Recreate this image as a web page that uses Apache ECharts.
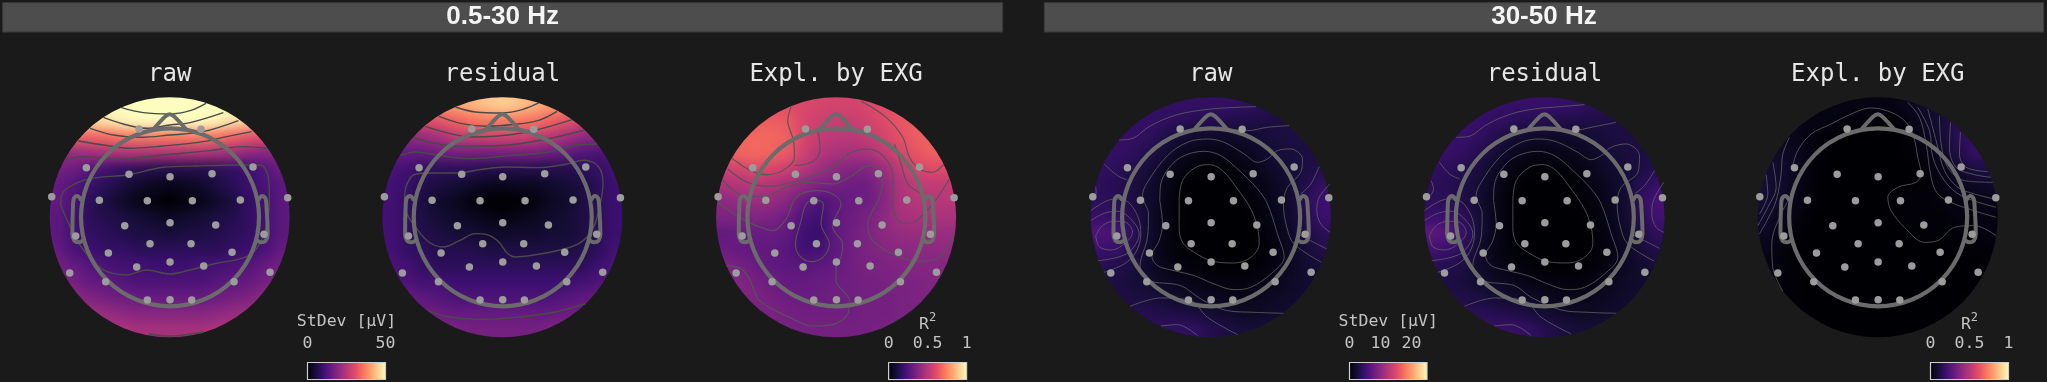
<!DOCTYPE html>
<html><head><meta charset="utf-8">
<style>html,body{margin:0;padding:0;background:#1a1a1a;overflow:hidden}#main{width:2047px;height:382px}</style>
<script src="https://cdn.jsdelivr.net/npm/echarts@6/dist/echarts.min.js"></script>
</head><body><div id="main"></div>
<script>
// ---------- labels and ticks ----------
const BANDS = ['0.5-30 Hz', '30-50 Hz'];
const PANEL_TITLES = ['raw', 'residual', 'Expl. by EXG', 'raw', 'residual', 'Expl. by EXG'];
const BAR_TICKS_LOW = [0, 50];
const BAR_TICKS_HIGH = [0, 10, 20];
const BAR_TICKS_R2 = [0, 0.5, 1];
const MAGMA = ['#000004','#140e36','#3b0f70','#641a80','#8c2981','#b73779','#de4968','#f7705c','#fe9f6d','#fecf92','#fcfdbf'];

// ---------- field values on a 15x15 sampling of each scalp map (top row first) ----------
const LOW_RAW = [
[50,50,50,50,50,50,50,50,50,50,50,50,50,50,50],
[46,46,46,47,49,50,50,50,50,50,49,47,45,44,44],
[33,33,33,34,35,36,36,36,36,36,35,33,31,30,30],
[21,21,22,23,24,24,24,24,24,24,23,22,20,19,19],
[17,16,13,11,9,8,7,7,7,7,8,9,10,13,16],
[15,13,10,8,6,4,3,2,3,4,6,8,10,12,14],
[15,12,8,6,4,2,1,0,1,2,4,6,9,11,14],
[14,11,8,7,6,5,4,3,4,5,6,7,9,11,14],
[14,11,9,8,7,6,6,5,6,6,7,8,9,11,14],
[15,12,10,9,9,8,8,8,8,8,8,9,10,12,15],
[17,15,13,12,11,11,10,10,10,11,11,12,13,15,17],
[18,17,15,14,13,12,12,12,12,12,13,14,15,17,18],
[21,20,18,17,16,15,15,15,15,15,16,17,18,20,21],
[24,23,22,21,20,19,19,19,19,19,20,21,22,23,24],
[26,26,25,24,24,23,23,23,23,23,24,24,25,26,26]];
const LOW_RES = [
[38,38,38,39,40,42,44,45,44,42,40,38,38,38,38],
[30,30,30,31,33,35,36,36,36,35,33,31,29,29,29],
[20,20,21,23,26,27,28,28,28,27,25,23,20,19,19],
[15,15,15,16,17,17,17,17,17,17,16,15,13,12,12],
[12,11,9,8,8,8,7,7,7,7,7,7,8,9,11],
[11,10,7,6,5,4,3,2,3,3,4,5,6,8,10],
[11,9,6,4,3,1,0,0,0,1,3,4,6,8,10],
[11,9,6,5,4,3,2,1,2,3,4,5,6,8,10],
[11,9,7,6,5,5,4,4,4,4,5,5,6,8,10],
[11,9,8,7,7,7,6,6,6,6,6,6,7,8,11],
[12,11,9,8,8,8,8,8,8,8,8,8,8,10,12],
[13,12,11,11,10,10,10,10,10,10,10,10,11,12,13],
[15,15,14,13,12,12,12,12,12,12,12,13,14,15,15],
[17,17,16,16,15,15,15,15,15,15,15,16,16,17,17],
[19,19,18,18,18,17,17,17,17,17,18,18,18,19,19]];
const LOW_R2 = [
[.62,.62,.62,.62,.61,.59,.58,.57,.57,.59,.61,.62,.63,.63,.63],
[.65,.65,.65,.65,.64,.58,.55,.54,.54,.56,.60,.63,.65,.66,.66],
[.66,.67,.68,.68,.66,.58,.53,.51,.51,.53,.57,.62,.65,.66,.66],
[.66,.67,.68,.67,.64,.56,.49,.47,.46,.47,.52,.58,.63,.66,.66],
[.55,.57,.60,.58,.55,.50,.44,.40,.37,.37,.43,.52,.58,.60,.60],
[.48,.49,.50,.48,.45,.40,.36,.34,.32,.32,.39,.48,.52,.52,.52],
[.40,.42,.43,.42,.38,.30,.24,.28,.31,.32,.38,.47,.50,.50,.50],
[.36,.36,.37,.36,.32,.24,.21,.29,.32,.35,.40,.46,.47,.47,.47],
[.30,.31,.31,.31,.29,.21,.19,.29,.33,.36,.40,.42,.43,.43,.43],
[.31,.30,.29,.29,.27,.21,.22,.29,.33,.36,.38,.39,.40,.40,.41],
[.36,.34,.31,.29,.28,.27,.28,.30,.33,.35,.36,.37,.38,.38,.38],
[.38,.37,.34,.31,.30,.30,.31,.32,.33,.34,.35,.36,.36,.37,.37],
[.38,.37,.36,.34,.32,.31,.32,.33,.33,.34,.34,.35,.36,.36,.36],
[.37,.37,.36,.35,.34,.33,.33,.33,.33,.34,.34,.35,.35,.36,.36],
[.37,.37,.36,.35,.35,.34,.34,.34,.34,.34,.35,.35,.35,.36,.36]];
const HIGH_RAW = [
[4,4,4,4.3,4.4,4.5,4.5,4.5,4.5,4.3,4,3.8,3.5,3.5,3.5],
[4.5,4.5,4.5,4.5,4.3,4,3.7,3.6,3.4,3.3,3.2,3,3,3,3],
[4.5,4.5,4.5,4.2,3.5,2.5,2,1.7,1.8,2,2.4,2.8,3,3,3],
[4.5,4.5,4.3,3.5,2.5,1.5,1,0.8,1,1.2,1.8,2.5,2.8,3,3.2],
[4.3,4,3.5,2.8,1.6,0.7,0.3,0.1,0.3,0.6,1.2,2,2.5,3,3.5],
[4,3.7,3.2,2.3,1.2,0.3,0,0,0,0.3,0.8,1.5,2.3,3.5,4.5],
[4,3.8,3.2,2.2,1,0.2,0,0,0,0.1,0.6,1.3,2.2,4,5],
[4.8,4.6,3.8,2.3,1,0.2,0,0,0,0,0.3,1,2.1,3.6,5],
[6.2,6,4.5,2.3,1,0.2,0,0,0,0,0.2,0.8,1.8,3,4],
[5,4.8,3.8,2,0.9,0.3,0,0,0,0,0.1,0.6,1.6,2.6,3.4],
[3.8,3.5,3,2,1.1,0.6,0.3,0.1,0,0,0.2,0.7,1.5,2.2,2.6],
[3.2,3,2.7,2.1,1.6,1.2,0.8,0.6,0.5,0.4,0.8,1.2,1.7,2.1,2.4],
[3.2,3.2,3,2.8,2.3,1.9,1.7,1.4,1.1,1,1.2,1.6,2,2.2,2.3],
[3.5,3.5,3.5,3.5,3.3,3.1,2.8,2.4,2,1.7,1.7,2,2.2,2.4,2.4],
[4,4,4.2,4.2,4.2,4.3,4.2,3.6,3,2.7,2.6,2.6,2.7,2.7,2.7]];
const HIGH_RES = [
[4.2,4.2,4.2,4.5,4.6,4.7,4.7,4.7,4.6,4.4,4,3.8,3.6,3.5,3.5],
[4.7,4.7,4.7,4.7,4.4,4,3.7,3.6,3.4,3.3,3.2,3,3,3,3],
[4.7,4.7,4.7,4.3,3.5,2.5,2,1.7,1.8,2,2.4,2.8,3,3,3],
[4.7,4.6,4.3,3.5,2.5,1.5,1,0.8,1,1.2,1.8,2.5,2.8,3,3.2],
[4.3,4,3.5,2.8,1.6,0.7,0.3,0.1,0.3,0.6,1.2,2,2.5,3,3.6],
[4,3.7,3.2,2.3,1.2,0.3,0,0,0,0.3,0.8,1.5,2.3,3.6,4.8],
[4.1,3.9,3.3,2.2,1,0.2,0,0,0,0.1,0.6,1.3,2.2,4.2,5.6],
[5,4.8,4,2.4,1,0.2,0,0,0,0,0.3,1,2.1,3.7,5.4],
[7,6.6,4.8,2.4,1,0.2,0,0,0,0,0.2,0.8,1.8,3,4.2],
[5.4,5,3.9,2,0.9,0.3,0,0,0,0,0.1,0.6,1.6,2.6,3.4],
[3.9,3.6,3,2,1.1,0.6,0.3,0.1,0,0,0.2,0.7,1.5,2.2,2.6],
[3.2,3,2.7,2.1,1.6,1.2,0.8,0.6,0.5,0.4,0.8,1.2,1.7,2.1,2.4],
[3.4,3.4,3.2,2.9,2.3,1.9,1.7,1.4,1.1,1,1.2,1.6,2,2.2,2.3],
[3.8,3.8,3.8,3.8,3.6,3.3,2.9,2.4,2,1.7,1.7,2,2.2,2.4,2.4],
[4.4,4.4,4.5,4.6,4.6,4.6,4.4,3.7,3,2.7,2.6,2.6,2.7,2.7,2.7]];
const HIGH_R2 = [
[.04,.04,.03,.03,.03,.03,.03,.03,.03,.05,.08,.10,.14,.15,.15],
[.04,.04,.03,.03,.03,.02,.01,.01,.01,.03,.07,.10,.15,.17,.17],
[.05,.05,.04,.02,.01,0,0,0,0,.01,.05,.09,.15,.18,.18],
[.07,.07,.05,.02,0,0,0,0,0,.005,.03,.07,.13,.18,.18],
[.09,.08,.05,.01,0,0,0,0,0,0,.01,.04,.08,.12,.12],
[.10,.08,.04,.01,0,0,0,0,0,0,.01,.03,.05,.06,.07],
[.10,.07,.03,.01,0,0,0,0,.005,.01,.01,.02,.03,.04,.04],
[.08,.05,.02,0,0,0,0,0,.005,.01,.01,.01,.02,.03,.03],
[.06,.03,.01,0,0,0,0,0,0,.005,.005,.005,.01,.01,.02],
[.04,.02,0,0,0,0,0,0,0,0,0,0,.005,.005,.01],
[.03,.015,.005,0,0,0,0,0,0,0,0,0,0,0,.005],
[.03,.01,.005,0,0,0,0,0,0,0,0,0,0,0,.005],
[.01,.01,.005,0,0,0,0,0,0,0,0,0,0,.005,.005],
[.005,.005,.005,0,0,0,0,0,0,0,0,0,0,.005,.005],
[.005,.005,.005,.005,0,0,0,0,0,0,0,.005,.005,.005,.005]];

// ---------- sensors, head outline and contour lines, in map units (centre 390,390) ----------
const SENSORS = [[298,125],[484,126],[140,241],[640,239],[268,261],[391,268],[517,259],[36,328],[744,331],[179,339],[323,340],[458,340],[602,338],[255,415],[391,406],[528,413],[108,446],[673,441],[331,469],[454,469],[206,497],[577,495],[291,539],[391,524],[492,536],[90,557],[691,555],[198,583],[583,583],[323,638],[391,637],[456,638]];
const HEAD_CENTRE = [[391,390]];
const HEAD_RADIUS = 267;
const NOSE = [[343,124],[376,88],[390,81],[404,88],[437,124]];
const EAR_L = [[123,336],[113,326],[103,333],[100,350],[98,440],[104,460],[118,465],[130,459]];
const EAR_R = [[657,336],[667,326],[677,333],[680,350],[684,440],[678,460],[664,465],[652,459]];

const LINES_LOW_RAW = [
[[243,60],[311,76],[391,80],[451,70],[499,48]],
[[191,90],[251,110],[321,123],[391,113],[451,106],[551,76]],
[[151,123],[221,143],[301,150],[391,143],[491,133],[596,100]],
[[116,161],[191,173],[271,183],[371,176],[491,163],[561,148],[636,133]],
[[76,218],[131,208],[231,216],[371,203],[511,190],[611,178],[681,183]],
[[63,353],[71,313],[121,283],[171,271],[261,263],[371,240],[471,236],[591,233],[661,233],[683,258],[689,318],[687,378],[661,468],[621,508],[531,528],[451,548],[391,560],[321,548],[261,563],[191,548],[131,488],[91,418],[63,353]],
[[326,740],[391,746],[491,735]]];
const LINES_LOW_RES = [
[[249,59],[309,74],[389,77],[449,67],[499,47]],
[[199,87],[269,109],[339,117],[429,111],[499,99],[554,72]],
[[159,117],[299,149],[449,137],[599,97]],
[[124,152],[259,177],[399,174],[529,154],[634,129]],
[[84,204],[129,194],[199,204],[289,214],[419,204],[529,194],[609,174],[674,171]],
[[96,334],[104,289],[129,261],[179,257],[249,257],[329,246],[399,239],[499,241],[579,231],[634,219],[679,239],[692,289],[679,369],[659,429],[619,469],[559,489],[479,504],[429,509],[404,497],[379,464],[344,442],[309,439],[259,461],[214,479],[169,464],[129,419],[104,379],[96,334]],
[[169,671],[229,689],[339,696],[439,689],[549,674],[639,649]]];
const LINES_LOW_R2 = [
[[255,58],[245,100],[262,160],[265,210],[230,250],[180,262],[130,248],[78,213]],
[[335,130],[342,185],[322,222],[265,235]],
[[65,245],[120,283],[190,297],[290,275],[380,240],[430,198],[485,185],[530,205],[560,260],[563,370],[590,408],[630,400],[680,350],[730,275]],
[[50,280],[100,320],[170,328],[240,300],[300,285],[380,290],[430,270],[490,235],[530,265],[520,330],[485,410],[500,460],[570,505],[640,522],[700,510],[745,440]],
[[35,345],[100,390],[150,415],[200,430],[240,395],[270,330],[330,310],[380,320],[405,350],[385,395],[380,420],[410,470],[405,510],[390,540],[390,580],[430,640],[425,680],[380,712],[320,716],[250,690],[160,640],[130,575],[105,545],[60,535]],
[[325,336],[352,350],[345,410],[370,470],[350,510],[315,523],[280,505],[268,470],[285,400],[300,350],[325,336]],
[[465,42],[540,90],[590,150],[610,210],[640,245],[680,255],[712,232]],
[[565,170],[585,230],[605,290],[645,318]]];
const LINES_HIGH_RAW = [
[[115,158],[150,155],[210,115],[280,85],[350,70],[430,62],[525,58]],
[[415,122],[500,130],[560,120],[625,115]],
[[70,230],[110,265],[140,278]],
[[608,678],[520,675],[440,670],[360,635],[300,595],[200,578],[178,535],[200,450],[203,380],[185,325],[200,285],[260,205],[320,165],[380,155],[430,165],[490,200],[530,225],[560,215],[590,190],[630,185],[665,215],[660,255],[620,300],[608,350],[618,420],[640,470],[722,525]],
[[237,340],[240,290],[270,235],[310,205],[370,192],[420,205],[470,245],[530,305],[560,350],[590,440],[610,510],[570,560],[510,600],[460,607],[400,590],[340,565],[280,550],[230,535],[213,505],[235,460],[245,410],[237,340]],
[[295,340],[305,280],[345,240],[385,232],[425,250],[470,305],[510,365],[530,420],[535,470],[510,510],[460,527],[400,523],[340,495],[305,465],[295,420],[295,340]],
[[45,445],[65,415],[100,402],[135,405],[155,435],[130,470],[90,488],[55,478],[45,445]],
[[30,400],[70,378],[110,372],[150,395],[175,440],[150,490],[110,510],[52,520]],
[[30,370],[100,335],[135,340],[170,385],[180,440],[165,495],[130,530],[70,555]],
[[45,298],[46,320],[42,328]],
[[148,657],[240,632],[330,640],[380,690],[470,742]],
[[240,716],[290,712],[350,745]],
[[748,290],[715,330],[708,370],[720,410],[748,435]],
[[715,238],[690,290],[660,320]],
[[650,440],[738,485]]];
const LINES_HIGH_RES = [
[[125,150],[160,148],[220,110],[290,80],[360,65],[440,58],[510,52]],
[[420,125],[470,130],[540,118],[605,105]],
[[75,225],[105,260],[135,275]],
[[605,678],[520,675],[440,668],[350,630],[300,595],[200,578],[175,535],[200,450],[203,380],[185,325],[200,285],[260,205],[320,165],[375,155],[430,165],[490,195],[530,217],[560,205],[590,180],[635,170],[675,205],[670,255],[620,300],[608,350],[618,420],[640,470],[720,522]],
[[237,340],[240,290],[270,235],[310,205],[370,192],[420,205],[470,245],[530,305],[560,350],[590,440],[610,510],[570,560],[510,600],[460,607],[400,590],[340,565],[280,550],[230,535],[213,505],[235,460],[245,410],[237,340]],
[[295,340],[305,280],[345,240],[385,232],[425,250],[470,305],[510,365],[530,420],[535,470],[510,510],[460,527],[400,523],[340,495],[305,465],[295,420],[295,340]],
[[45,445],[65,415],[100,402],[135,405],[155,435],[130,470],[90,488],[55,478],[45,445]],
[[30,400],[70,378],[110,372],[150,395],[175,440],[150,490],[110,510],[52,520]],
[[30,370],[100,335],[135,340],[170,385],[180,440],[165,495],[130,530],[70,555]],
[[50,280],[57,305],[48,325]],
[[150,657],[240,632],[330,640],[380,690],[470,740]],
[[240,716],[290,712],[350,745]],
[[748,285],[715,345],[712,380],[725,420],[748,435]],
[[720,250],[690,295],[660,320]],
[[650,440],[735,483]]];
const LINES_HIGH_R2 = [
[[135,235],[150,190],[190,140],[250,110],[310,80],[370,62],[430,75],[475,105],[498,150],[510,210],[520,260],[505,285],[450,300],[420,330],[430,370],[470,420],[530,465],[570,460],[620,420],[680,415],[745,445]],
[[125,150],[105,200],[100,260],[85,340],[60,395],[35,440]],
[[75,225],[85,300],[60,360],[30,415]],
[[55,262],[60,320],[35,380]],
[[140,310],[100,380],[72,470],[75,540],[105,612]],
[[480,45],[515,90],[535,170],[550,270],[570,320],[620,350],[745,390]],
[[510,60],[545,130],[555,210],[590,280],[640,325],[745,360]],
[[540,65],[565,160],[590,250],[630,300],[680,320],[740,335]],
[[575,85],[580,170],[600,240],[650,280],[735,285]],
[[608,105],[605,180],[625,240],[680,262],[730,270]],
[[638,135],[635,200],[655,240],[720,253]]];

// ---------- page layout ----------
const CENTRES = [169.7, 502.4, 836.1, 1210.8, 1544.5, 1877.8];
const CY = 217.3, R = 120;
const MAPS = [
 {field: LOW_RAW,  lines: LINES_LOW_RAW,  max: 50, lc: '#4a4a4a', lw: 1.4},
 {field: LOW_RES,  lines: LINES_LOW_RES,  max: 50, lc: '#4a4a4a', lw: 1.4},
 {field: LOW_R2,   lines: LINES_LOW_R2,   max: 1,  lc: '#555555', lw: 1.1},
 {field: HIGH_RAW, lines: LINES_HIGH_RAW, max: 25, lc: '#626262', lw: 0.8},
 {field: HIGH_RES, lines: LINES_HIGH_RES, max: 25, lc: '#626262', lw: 0.8},
 {field: HIGH_R2,  lines: LINES_HIGH_R2,  max: 1,  lc: '#626262', lw: 0.8}];
const BARS = [
 {x0: 307.5, x1: 385.5, max: 50, ticks: BAR_TICKS_LOW, label: 'StDev [μV]'},
 {x0: 888.6, x1: 966.6, max: 1,  ticks: BAR_TICKS_R2,  label: '{r|R}{s|2}'},
 {x0: 1349.5, x1: 1427, max: 25, ticks: BAR_TICKS_HIGH, label: 'StDev [μV]'},
 {x0: 1930.5, x1: 2008.5, max: 1, ticks: BAR_TICKS_R2, label: '{r|R}{s|2}'}];
const MONO = '"DejaVu Sans Mono", monospace';

const grid = [], xAxis = [], yAxis = [], series = [], visualMap = [], title = [], graphic = [];
const hide = {show: false};
const N = 17, CELL = 16;

// heatmaps: one band of repeated edge cells keeps the soft edge off the scalp rim
const idx = Array.from({length: N}, (_, i) => String(i));
MAPS.forEach((m, p) => {
  const g = grid.length;
  grid.push({left: CENTRES[p] - N * CELL / 2, top: CY - N * CELL / 2, width: N * CELL, height: N * CELL});
  xAxis.push({type: 'category', data: idx, gridIndex: g, show: false});
  yAxis.push({type: 'category', data: idx, gridIndex: g, show: false, inverse: true});
  const data = [];
  for (let r = 0; r < N; r++) for (let c = 0; c < N; c++) {
    const rr = Math.min(14, Math.max(0, r - 1)), cc = Math.min(14, Math.max(0, c - 1));
    data.push([c, r, m.field[rr][cc]]);
  }
  visualMap.push({show: false, min: 0, max: m.max, seriesIndex: series.length, inRange: {color: MAGMA}});
  series.push({type: 'heatmap', xAxisIndex: g, yAxisIndex: g, data, zlevel: 0, silent: true, progressive: 0});
});
// overlays: contours, head, sensors
MAPS.forEach((m, p) => {
  const g = grid.length;
  grid.push({left: CENTRES[p] - 130, top: CY - 130, width: 260, height: 260});
  xAxis.push({type: 'value', min: 0, max: 780, gridIndex: g, show: false});
  yAxis.push({type: 'value', min: 0, max: 780, gridIndex: g, show: false, inverse: true});
  const base = {xAxisIndex: g, yAxisIndex: g, zlevel: 1, silent: true};
  m.lines.forEach(l => series.push({...base, type: 'line', data: l, smooth: 0.35, showSymbol: false, symbol: 'none', z: 3,
    lineStyle: {color: m.lc, width: m.lw}}));
  series.push({...base, type: 'custom', data: HEAD_CENTRE, z: 4, renderItem: (params, api) => {
    const c = api.coord([api.value(0), api.value(1)]);
    return {type: 'circle', shape: {cx: c[0], cy: c[1], r: api.size([HEAD_RADIUS, 0])[0]},
      style: {fill: 'none', stroke: '#6b6b6b', lineWidth: 4.2}};
  }});
  [NOSE, EAR_L, EAR_R].forEach(l => series.push({...base, type: 'line', data: l, smooth: 0.3, symbol: 'none', z: 4,
    lineStyle: {color: '#6b6b6b', width: 4, cap: 'round', join: 'round'}}));
  series.push({...base, type: 'scatter', data: SENSORS, symbolSize: 7.5, z: 5, itemStyle: {color: '#9c9c9c', opacity: 1}});
  title.push({text: PANEL_TITLES[p], left: CENTRES[p], top: 75, padding: 0, textAlign: 'center', textVerticalAlign: 'middle', zlevel: 1,
    textStyle: {fontFamily: MONO, fontSize: 24, fontWeight: 'normal', color: '#e6e6e6'}});
});
// colour bars
BARS.forEach(b => {
  const g = grid.length;
  grid.push({left: b.x0, top: 362.5, width: b.x1 - b.x0, height: 17});
  xAxis.push({type: 'value', min: 0, max: b.max, gridIndex: g, position: 'top', zlevel: 1, splitLine: hide, axisLine: hide, axisTick: hide,
    axisLabel: {customValues: b.ticks, color: '#c4c4c4', fontFamily: MONO, fontSize: 16.5, margin: 10, showMinLabel: true, showMaxLabel: true, hideOverlap: false}});
  yAxis.push({type: 'value', min: 0, max: 1, gridIndex: g, show: false});
  series.push({type: 'custom', xAxisIndex: g, yAxisIndex: g, zlevel: 1, silent: true, data: [[0, b.max]], z: 5,
    renderItem: (params, api) => {
      const a = api.coord([api.value(0), 1]), s = api.coord([api.value(1), 0]);
      return {type: 'rect', shape: {x: a[0], y: a[1], width: s[0] - a[0], height: s[1] - a[1]},
        style: {stroke: '#cfcfcf', lineWidth: 1.2, fill: new echarts.graphic.LinearGradient(0, 0, 1, 0,
          MAGMA.map((color, i) => ({offset: i / (MAGMA.length - 1), color})))}};
    }});
  title.push({text: b.label, left: (b.x0 + b.x1) / 2, top: 322, padding: 0, textAlign: 'center', textVerticalAlign: 'middle', zlevel: 1,
    textStyle: {fontFamily: MONO, fontSize: 16.5, fontWeight: 'normal', color: '#c4c4c4',
      rich: {r: {fontFamily: MONO, fontSize: 16.5, color: '#c4c4c4', padding: [6, 0, 0, 0]},
             s: {fontFamily: MONO, fontSize: 12, color: '#c4c4c4', padding: [0, 0, 8, 0]}}}});
});
// frequency band headers
[[2.7, 1002.6], [1044.3, 2043.6]].forEach((x, i) => {
  graphic.push({type: 'rect', zlevel: 1, z: 1, shape: {x: x[0], y: 2.7, width: x[1] - x[0], height: 29.3},
    style: {fill: '#4d4d4d', stroke: '#3c3c3c', lineWidth: 1}});
  title.push({text: BANDS[i], left: (x[0] + x[1]) / 2, top: 17, padding: 0, textAlign: 'center', textVerticalAlign: 'middle', zlevel: 2,
    textStyle: {fontFamily: '"Liberation Sans", Arial, sans-serif', fontSize: 26, fontWeight: 'bold', color: '#f5f5f5'}});
});

const chart = echarts.init(document.getElementById('main'), null, {renderer: 'canvas'});
chart.setOption({animation: false, tooltip: hide, grid, xAxis, yAxis, series, visualMap, title, graphic});

// soften the sampled field layer and keep it inside the scalp discs
const clip = CENTRES.map(x => `M${x - R} ${CY}a${R} ${R} 0 1 0 ${2 * R} 0a${R} ${R} 0 1 0 ${-2 * R} 0Z`).join('');
const heat = chart.getDom().querySelector('canvas');
heat.style.filter = 'blur(6px)';
heat.style.clipPath = `path("${clip}")`;
</script></body></html>
